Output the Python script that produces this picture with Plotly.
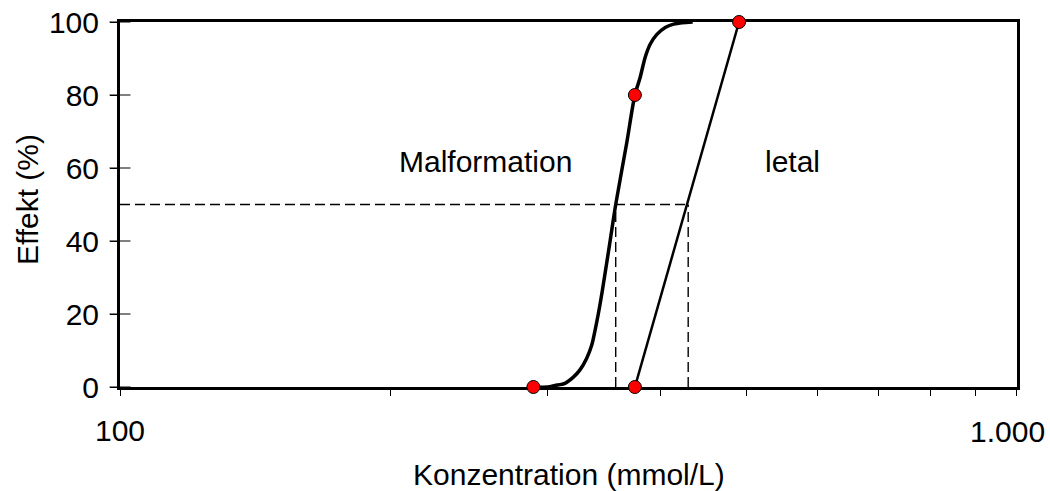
import plotly.graph_objects as go

# ---- data ----
mal_points_x = [289, 375]
mal_points_y = [0, 80]
mal_curve_x = [289, 300, 305.4, 313.4, 320.2, 325.7, 331.4, 335.7, 338.6, 341.5,
               345.0, 351.9, 357.0, 367.3, 375.0, 380.1, 385.0, 390.0, 396.8,
               405.4, 414.2, 423.1, 435]
mal_curve_y = [0, 0, 0.4, 1.0, 2.7, 4.7, 7.9, 11.5, 15.6, 20.2,
               26.5, 40, 50, 67, 80, 84.8, 90.3, 93.9, 96.6,
               98.5, 99.4, 99.8, 100]
let_points_x = [375, 490]
let_points_y = [0, 100]
ec50_mal = 357
lc50_let = 430
half_effect = 50
x_min, x_max = 100, 1000
x_tickvals = [100, 200, 300, 400, 500, 600, 700, 800, 900, 1000]
x_ticktext = ["100", "", "", "", "", "", "", "", "", ""]
x_last_label = "1.000"
y_tickvals = [0, 20, 40, 60, 80, 100]

FONT = "Liberation Sans, Arial, sans-serif"
FS = 30

fig = go.Figure()

# dashed guide lines
fig.add_trace(go.Scatter(
    x=[x_min, lc50_let, None, ec50_mal, ec50_mal, None, lc50_let, lc50_let],
    y=[half_effect, half_effect, None, 0, half_effect, None, 0, half_effect],
    mode="lines", line=dict(color="black", width=1.4, dash="10px,5px"),
    hoverinfo="skip", showlegend=False))

# malformation curve
fig.add_trace(go.Scatter(
    x=mal_curve_x, y=mal_curve_y, mode="lines",
    line=dict(color="black", width=3.5, shape="spline", smoothing=0.8),
    showlegend=False))

# lethal line
fig.add_trace(go.Scatter(
    x=let_points_x, y=let_points_y, mode="lines",
    line=dict(color="black", width=2.5), showlegend=False))

# y-axis tick marks crossing the axis line (Excel "cross" style)
fig.add_trace(go.Scatter(
    x=[x_min] * len(y_tickvals), y=y_tickvals, mode="markers",
    marker=dict(symbol="line-ew", size=15, color="black",
                line=dict(color="black", width=1)),
    cliponaxis=False, hoverinfo="skip", showlegend=False))

# markers
fig.add_trace(go.Scatter(
    x=mal_points_x + let_points_x, y=mal_points_y + let_points_y, mode="markers",
    marker=dict(color="#FF0000", size=13, line=dict(color="black", width=1)),
    cliponaxis=False, showlegend=False))

fig.update_layout(
    width=1050, height=491,
    margin=dict(l=120, r=33, t=22, b=104, autoexpand=False),
    paper_bgcolor="white", plot_bgcolor="white",
    font=dict(family=FONT, size=FS, color="black"),
    xaxis=dict(type="log", range=[2, 3.00005], tickvals=x_tickvals, ticktext=x_ticktext,
               ticks="outside", ticklen=6, tickwidth=1, tickcolor="black",
               showline=True, linewidth=3, linecolor="black", mirror=True,
               showgrid=False, zeroline=False, ticklabelstandoff=9,
               automargin=False, layer="below traces"),
    yaxis=dict(range=[0, 100], tickvals=y_tickvals,
               ticks="outside", ticklen=7, tickwidth=1, tickcolor="black",
               showline=True, linewidth=3, linecolor="black", mirror=True,
               showgrid=False, zeroline=False, ticklabelstandoff=5,
               automargin=False, layer="below traces"),
    annotations=[
        # last x tick label, kept inside the figure as in the reference
        dict(text=x_last_label, xref="paper", yref="paper",
             x=1, xshift=29, y=(387 - 431) / 365, xanchor="right",
             yanchor="middle", showarrow=False, borderpad=0),
        dict(text="Konzentration (mmol/L)", xref="paper", yref="paper",
             x=0.5, y=(387 - 474) / 365, xanchor="center", yanchor="middle",
             showarrow=False, borderpad=0),
        dict(text="Effekt (%)", xref="paper", yref="paper", textangle=-90,
             x=(27 - 120) / 897, y=0.512, xanchor="center", yanchor="middle",
             showarrow=False),
        dict(text="Malformation", xref="paper", yref="paper",
             x=(485 - 120) / 897, y=(387 - 161) / 365, xanchor="center",
             yanchor="middle", showarrow=False),
        dict(text="letal", xref="paper", yref="paper",
             x=(792 - 120) / 897, y=(387 - 161) / 365, xanchor="center",
             yanchor="middle", showarrow=False),
    ],
)

fig.write_html("out.html")
